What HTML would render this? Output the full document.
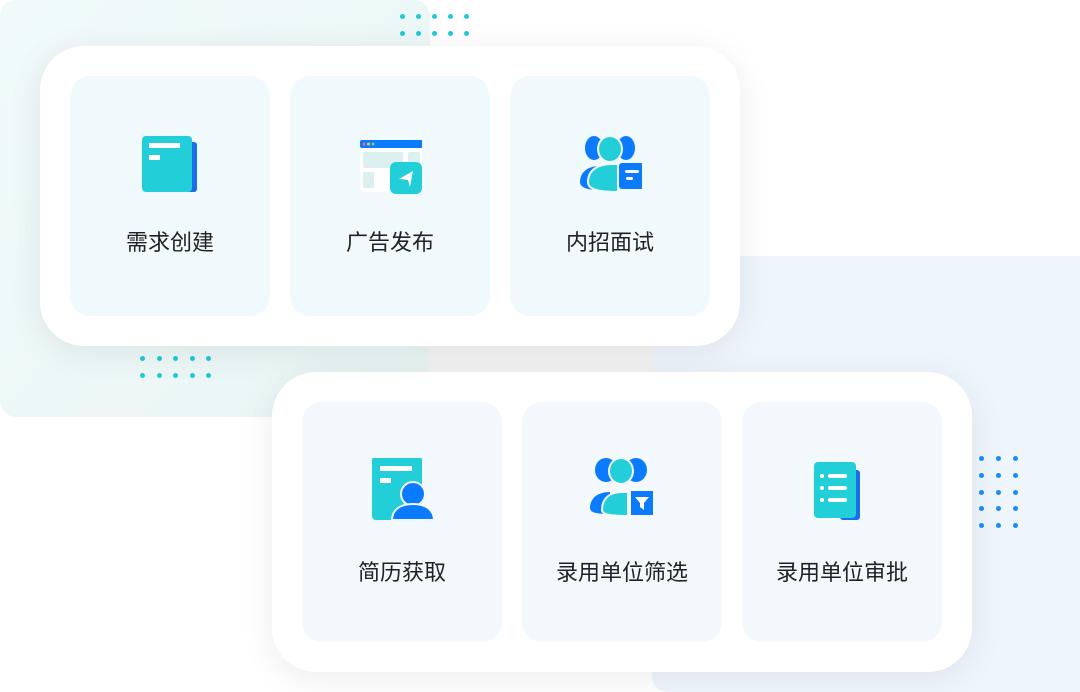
<!DOCTYPE html>
<html><head><meta charset="utf-8"><style>
*{margin:0;padding:0;box-sizing:border-box}
body{width:1080px;height:692px;background:#fff;position:relative;overflow:hidden;font-family:"Liberation Sans","Noto Sans CJK SC",sans-serif}
.abs{position:absolute}
.card{position:absolute;width:700px;height:300px;background:#fff;border-radius:44px;box-shadow:0 6px 34px rgba(0,0,0,0.08)}
.tile{position:absolute;top:30px;width:200px;height:240px;border-radius:20px}
.tile svg{position:absolute;left:68px;top:56px}
.tile .t{position:absolute;left:0;right:0;top:149px;text-align:center;font-size:22px;color:#222}
.b .tile .t{top:153px}
.dot{position:absolute;width:5px;height:5px;border-radius:50%}
</style></head><body>
<div class="abs" style="left:0;top:0;width:430px;height:417px;background:linear-gradient(135deg,#f0fafa,#e9f5f4);border-radius:16px"></div>
<div class="abs" style="left:428px;top:300px;width:224px;height:100px;background:#f4f4f4"></div>
<div class="abs" style="left:652px;top:256px;width:428px;height:436px;background:#eef5fc;border-radius:16px 0 0 16px"></div>
<div id="dots"></div>
<div class="card" style="left:40px;top:46px">
 <div class="tile" style="left:30px;background:#f0f9fb">
  <svg width="64" height="64" viewBox="0 0 64 64"><rect x="33" y="10" width="26" height="50" rx="3" fill="#1a6fe8"/><rect x="4" y="4" width="50" height="56" rx="4" fill="#22cfd8"/><rect x="11" y="11" width="31" height="5" fill="#fff"/><rect x="11" y="23" width="11" height="5" fill="#fff"/></svg>
  <div class="t">需求创建</div></div>
 <div class="tile" style="left:250px;background:#f0f9fb">
  <svg width="64" height="64" viewBox="0 0 64 64"><rect x="2" y="8" width="64" height="52" rx="3" fill="#fff"/><rect x="2" y="8" width="64" height="8" rx="2" fill="#0a7bff"/><circle cx="6" cy="12" r="1.5" fill="#f66"/><circle cx="10.5" cy="12" r="1.5" fill="#fb3"/><circle cx="15" cy="12" r="1.5" fill="#6d6"/><rect x="5" y="20" width="40" height="16" rx="2" fill="#ddf0f0"/><rect x="50" y="20" width="12" height="16" rx="2" fill="#ddf0f0"/><rect x="5" y="40" width="11" height="16" rx="2" fill="#ddf0f0"/><rect x="32" y="30" width="32" height="32" rx="6" fill="#22cfd8"/><path d="M41 47 L55 39 L52 55 L50 48 Z" fill="#fff"/></svg>
  <div class="t">广告发布</div></div>
 <div class="tile" style="left:470px;background:#f0f9fb">
  <svg width="64" height="64" viewBox="0 0 64 64"><ellipse cx="16" cy="16" rx="9" ry="12" fill="#0a7bff"/><ellipse cx="48" cy="16" rx="9" ry="12" fill="#0a7bff"/><path d="M2 50 C2 40 10 34 22 34 L22 58 C10 58 2 56 2 50Z" fill="#0a7bff"/><ellipse cx="32" cy="17" rx="12" ry="13" fill="#22cfd8" stroke="#f0f9fb" stroke-width="2"/><path d="M10 50 C10 38 20 32 34 32 L40 32 L40 60 C22 60 10 58 10 50Z" fill="#22cfd8" stroke="#f0f9fb" stroke-width="2"/><rect x="41" y="31" width="25" height="26" rx="3" fill="#0a7bff"/><rect x="47" y="38" width="14" height="3" rx="1.5" fill="#fff"/><rect x="48" y="45" width="7" height="3" rx="1.5" fill="#fff"/></svg>
  <div class="t">内招面试</div></div>
</div>
<div class="card b" style="left:272px;top:372px">
 <div class="tile" style="left:30px;background:#f3f8fd">
  <svg width="64" height="64" viewBox="0 0 64 64"><rect x="2" y="-2" width="50" height="64" rx="4" fill="#22cfd8"/><rect x="10" y="8" width="32" height="5" fill="#fff"/><rect x="10" y="20" width="11" height="5" fill="#fff"/><circle cx="43" cy="36" r="12" fill="#0a7bff" stroke="#f3f8fd" stroke-width="2"/><path d="M22 62 C22 52 30 46 43 46 C56 46 64 52 64 62 Z" fill="#0a7bff" stroke="#f3f8fd" stroke-width="2"/></svg>
  <div class="t">简历获取</div></div>
 <div class="tile" style="left:250px;background:#f3f8fd">
  <svg width="64" height="64" viewBox="0 0 64 64"><ellipse cx="16" cy="12" rx="11" ry="12" fill="#0a7bff"/><ellipse cx="46" cy="12" rx="11" ry="12" fill="#0a7bff"/><path d="M0 50 C0 40 8 34 20 34 L20 56 C8 56 0 55 0 50Z" fill="#0a7bff"/><ellipse cx="31" cy="13" rx="12" ry="13" fill="#22cfd8" stroke="#f3f8fd" stroke-width="2"/><path d="M12 52 C12 40 20 34 32 34 L38 34 L38 58 C22 58 12 57 12 52Z" fill="#22cfd8" stroke="#f3f8fd" stroke-width="2"/><rect x="41" y="33" width="22" height="24" fill="#0a7bff"/><path d="M45 39 L59 39 L54 45 L54 52 L50 49 L50 45 Z" fill="#fff"/></svg>
  <div class="t">录用单位筛选</div></div>
 <div class="tile" style="left:470px;background:#f3f8fd">
  <svg width="64" height="64" viewBox="0 0 64 64"><rect x="30" y="12" width="20" height="50" rx="3" fill="#1a6fe8"/><rect x="4" y="4" width="42" height="56" rx="4" fill="#22cfd8"/><g fill="#fff"><circle cx="12" cy="18" r="2"/><circle cx="12" cy="30" r="2"/><circle cx="12" cy="42" r="2"/><rect x="18" y="16" width="19" height="4" rx="2"/><rect x="18" y="28" width="19" height="4" rx="2"/><rect x="18" y="40" width="19" height="4" rx="2"/></g></svg>
  <div class="t">录用单位审批</div></div>
</div>
<script>
var h='';
for(var r=0;r<2;r++)for(var c=0;c<5;c++){h+='<div class="dot" style="left:'+(400+c*16)+'px;top:'+(14+r*17)+'px;background:#22c8d6"></div>';h+='<div class="dot" style="left:'+(140+c*16.5)+'px;top:'+(356+r*17)+'px;background:#22c8d6"></div>';}
for(var r=0;r<5;r++)for(var c=0;c<3;c++){h+='<div class="dot" style="left:'+(979+c*17)+'px;top:'+(456+r*16.8)+'px;background:#1a8cff"></div>';}
document.getElementById('dots').innerHTML=h;
</script>
</body></html>
